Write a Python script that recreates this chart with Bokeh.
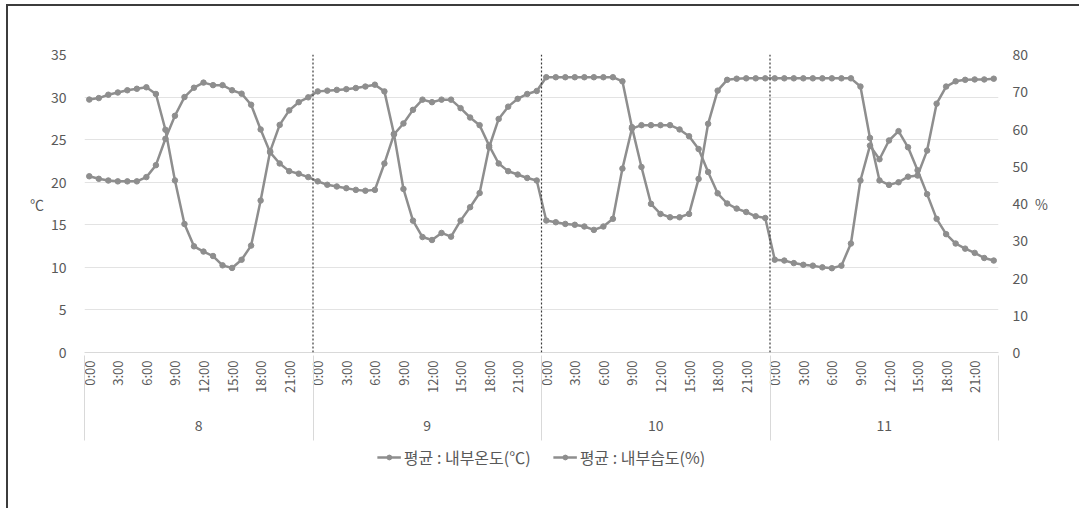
from math import pi
from bokeh.plotting import figure
from bokeh.layouts import column
from bokeh.models import (LinearAxis, Range1d, FixedTicker, Legend, LegendItem, Span)
from bokeh.embed import file_html
from bokeh.resources import INLINE

# ---------------- data ----------------
days = ["8", "9", "10", "11"]
hours_per_day = 24
hour_tick_step = 3
hour_tick_labels = ["0:00", "3:00", "6:00", "9:00", "12:00", "15:00", "18:00", "21:00"]

temp_day8 = [20.7, 20.4, 20.2, 20.1, 20.1, 20.1, 20.6, 22.0, 25.1, 27.8, 30.0, 31.1,
             31.7, 31.4, 31.4, 30.8, 30.4, 29.1, 26.2, 23.5, 22.2, 21.3, 21.0, 20.6]
temp_day9 = [20.1, 19.7, 19.5, 19.3, 19.1, 19.0, 19.1, 22.2, 25.6, 26.9, 28.5, 29.7,
             29.4, 29.7, 29.7, 28.7, 27.6, 26.7, 24.3, 22.2, 21.3, 20.9, 20.5, 20.2]
temp_day10 = [15.5, 15.3, 15.1, 15.0, 14.8, 14.4, 14.8, 15.7, 21.6, 26.3, 26.7, 26.7,
              26.7, 26.7, 26.2, 25.4, 23.9, 21.2, 18.7, 17.5, 16.9, 16.5, 16.0, 15.8]
temp_day11 = [10.9, 10.8, 10.5, 10.3, 10.2, 10.0, 9.9, 10.2, 12.8, 20.2, 24.3, 22.7,
              24.9, 26.0, 24.1, 21.4, 18.6, 15.7, 13.9, 12.8, 12.2, 11.7, 11.1, 10.8]

hum_day8 = [67.9, 68.3, 69.2, 69.8, 70.4, 70.8, 71.2, 69.4, 59.8, 46.2, 34.5, 28.5,
            27.1, 25.9, 23.4, 22.7, 24.9, 28.7, 40.8, 54.0, 61.1, 65.0, 67.2, 68.5]
hum_day9 = [70.1, 70.3, 70.5, 70.7, 71.0, 71.4, 71.9, 70.1, 58.7, 43.9, 35.4, 31.0,
            30.2, 32.1, 31.1, 35.4, 39.0, 42.8, 55.1, 62.7, 66.0, 68.1, 69.4, 70.2]
hum_day10 = [73.9, 73.9, 73.9, 73.9, 73.9, 73.9, 73.9, 73.9, 72.8, 60.5, 49.8, 39.9,
             37.2, 36.3, 36.3, 37.2, 46.6, 61.4, 70.3, 73.2, 73.5, 73.6, 73.6, 73.6]
hum_day11 = [73.6, 73.6, 73.6, 73.6, 73.6, 73.6, 73.6, 73.6, 73.6, 71.4, 57.6, 46.2,
             45.0, 45.7, 47.2, 47.5, 54.2, 66.8, 71.4, 72.8, 73.2, 73.3, 73.3, 73.5]

temp_ticks = [0, 5, 10, 15, 20, 25, 30, 35]
hum_ticks = [0, 10, 20, 30, 40, 50, 60, 70, 80]

series_names = ["평균 : 내부온도(℃)", "평균 : 내부습도(%)"]

# ---------------- build ----------------
temperature = temp_day8 + temp_day9 + temp_day10 + temp_day11
humidity = hum_day8 + hum_day9 + hum_day10 + hum_day11
n = len(days) * hours_per_day
x = list(range(n))

FONT = "Noto Sans CJK KR"
TXT = "#595959"
SER = "#8e8e8e"
GRID = "#e3e3e3"

p = figure(frame_width=914, frame_height=298, output_backend="svg", toolbar_location=None,
           x_range=Range1d(-0.5, n - 0.5), y_range=Range1d(temp_ticks[0], temp_ticks[-1]),
           min_border_left=76, min_border_right=81, min_border_top=48, min_border_bottom=90)
p.extra_y_ranges = {"hum": Range1d(hum_ticks[0], hum_ticks[-1])}
p.outline_line_color = None
p.background_fill_color = "white"
p.border_fill_color = "white"

p.xgrid.visible = False
p.ygrid.ticker = FixedTicker(ticks=temp_ticks)
p.ygrid.grid_line_color = GRID

# left axis
ya = p.yaxis[0]
ya.ticker = FixedTicker(ticks=temp_ticks)
ya.axis_line_color = None
ya.major_tick_line_color = None
ya.minor_tick_line_color = None
ya.major_label_standoff = 12
ya.major_label_text_font = FONT
ya.major_label_text_font_size = "14px"
ya.major_label_text_color = TXT
ya.axis_label = "℃"
ya.axis_label_orientation = "horizontal"
ya.axis_label_standoff = 4
ya.axis_label_text_font = FONT
ya.axis_label_text_font_style = "normal"
ya.axis_label_text_font_size = "14px"
ya.axis_label_text_color = TXT

# right axis
ra = LinearAxis(y_range_name="hum", ticker=FixedTicker(ticks=hum_ticks))
ra.axis_line_color = None
ra.major_tick_line_color = None
ra.minor_tick_line_color = None
ra.major_label_standoff = 8
ra.major_label_text_font = FONT
ra.major_label_text_font_size = "14px"
ra.major_label_text_color = TXT
ra.axis_label = "%"
ra.axis_label_orientation = "horizontal"
ra.axis_label_standoff = 4
ra.axis_label_text_font = FONT
ra.axis_label_text_font_style = "normal"
ra.axis_label_text_font_size = "14px"
ra.axis_label_text_color = TXT
p.add_layout(ra, "right")

# hour axis (below)
hour_ticks = []
hour_overrides = {}
for d in range(len(days)):
    for k, lab in enumerate(hour_tick_labels):
        t = d * hours_per_day + k * hour_tick_step
        hour_ticks.append(t)
        hour_overrides[t] = lab
boundaries = [d * hours_per_day - 0.5 for d in range(len(days) + 1)]

xa = p.xaxis[0]
xa.ticker = FixedTicker(ticks=hour_ticks)
xa.major_label_overrides = hour_overrides
xa.major_label_orientation = pi / 2
xa.major_tick_line_color = None
xa.minor_tick_line_color = None
xa.major_tick_in = 0
xa.major_tick_out = 0
xa.minor_tick_in = 0
xa.minor_tick_out = 0
xa.axis_line_color = "#d9d9d9"
xa.major_label_standoff = 8
xa.major_label_text_font = FONT
xa.major_label_text_font_size = "13px"
xa.major_label_text_color = TXT

# day axis (below): labels at day centres, minor ticks = group separators
day_centers = [d * hours_per_day + (hours_per_day - 1) / 2 for d in range(len(days))]
da = LinearAxis(ticker=FixedTicker(ticks=day_centers, minor_ticks=boundaries),
                major_label_overrides={c: lab for c, lab in zip(day_centers, days)})
da.axis_line_color = None
da.major_tick_line_color = None
da.major_tick_in = 0
da.major_tick_out = 0
da.minor_tick_in = 40
da.minor_tick_out = 45
da.minor_tick_line_color = "#d9d9d9"
da.major_label_standoff = -21
da.major_label_text_font = FONT
da.major_label_text_font_size = "14px"
da.major_label_text_color = TXT
p.add_layout(da, "below")

# day separators (dotted)
for b in boundaries[1:-1]:
    p.add_layout(Span(location=b, dimension="height", line_color="#3a3a3a",
                      line_dash="2 2", line_width=1.2))

# series
p.line(x, temperature, line_color=SER, line_width=2.5)
p.scatter(x, temperature, size=5.5, fill_color=SER, line_color=SER)
p.line(x, humidity, line_color=SER, line_width=2.5, y_range_name="hum")
p.scatter(x, humidity, size=5.5, fill_color=SER, line_color=SER, y_range_name="hum")

# legend strip (separate small canvas under the chart; its series lie outside
# its tiny range so only the legend keys are visible)
q = figure(width=1071, height=66, output_backend="svg", toolbar_location=None,
           x_axis_location=None, y_axis_location=None, min_border=0,
           x_range=Range1d(-2, -1), y_range=Range1d(-2, -1))
q.outline_line_color = None
q.grid.visible = False
q.background_fill_color = "white"
q.border_fill_color = "white"
ql1 = q.line(x, temperature, line_color=SER, line_width=2.5)
qs1 = q.scatter(x, temperature, size=5.5, fill_color=SER, line_color=SER)
ql2 = q.line(x, humidity, line_color=SER, line_width=2.5)
qs2 = q.scatter(x, humidity, size=5.5, fill_color=SER, line_color=SER)
legend = Legend(items=[LegendItem(label=series_names[0], renderers=[ql1, qs1]),
                       LegendItem(label=series_names[1], renderers=[ql2, qs2])],
                orientation="horizontal", location="top_center",
                border_line_color=None, background_fill_alpha=0,
                label_text_font=FONT, label_text_font_size="16px",
                label_text_color=TXT, glyph_width=24, glyph_height=12,
                label_standoff=3, spacing=22, margin=3, padding=6)
q.add_layout(legend, "center")

layout = column(p, q, spacing=0)
layout.styles = {"margin-left": "6px", "margin-top": "4px",
                 "border-left": "2px solid #3c3c3c", "border-top": "2px solid #3c3c3c"}

open("out.html", "w").write(file_html(layout, INLINE))
